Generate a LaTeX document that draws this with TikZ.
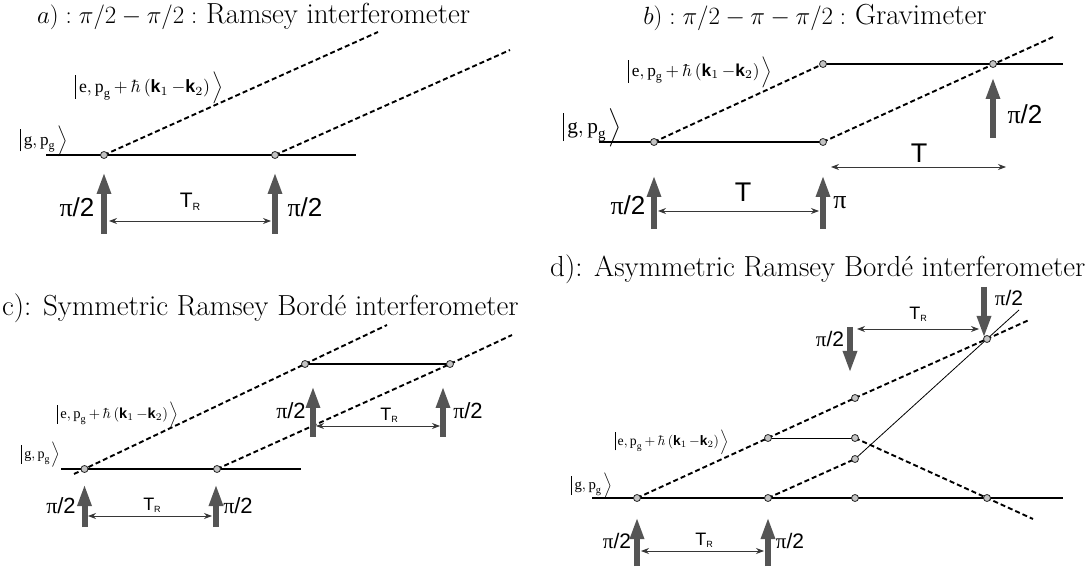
\documentclass[tikz,border=0pt]{standalone}
\usepackage{amsmath}
\usepackage{fontspec}
\newfontfamily\ketfont{Liberation Serif}
\newfontfamily\sanf{Liberation Sans}
\usetikzlibrary{arrows.meta}
\definecolor{pulsecol}{RGB}{85,85,85}
\definecolor{ballcol}{RGB}{195,195,195}
\definecolor{tcol}{RGB}{55,55,55}
\newcommand\ketbar{\rule[-0.36em]{0.055em}{1.32em}}
\newcommand\pg{\text{p}_{\text{g}}}
\newcommand\kete{{\ketfont$\left.\ketbar\mkern3mu\text{e},\pg\,{+}\,\hbar\left(\text{\sanf\bfseries k}_1\,{-}\text{\sanf\bfseries k}_2\right)\mkern2mu\right\rangle$}}
\newcommand\ketg{{\ketfont$\left.\ketbar\mkern3mu\text{g},\pg\mkern2mu\right\rangle$}}
\newcommand\pihalf{{\ketfont π}/2}
\newcommand\TRlab{T\raisebox{-0.12em}{\scalebox{0.5}{R}}}
\tikzset{
  ball/.style={circle,draw=black!85,fill=ballcol,line width=0.8pt,inner sep=0pt,minimum size=7pt},
  lev/.style={line width=1.2pt},
  thinlev/.style={line width=0.8pt},
  dsh/.style={line width=1.9pt,dash pattern=on 5pt off 3pt},
  pulse/.style={line width=6pt,draw=pulsecol,-{Triangle[length=22pt,width=13pt]}},
  tarr/.style={line width=0.8pt,draw=tcol,{Stealth[length=8pt,width=6pt]}-{Stealth[length=8pt,width=6pt]}},
  title/.style={anchor=base west,inner sep=0pt,font=\fontsize{29}{33}\selectfont},
  pilab/.style={inner sep=0pt,font=\sanf\fontsize{#1}{#1}\selectfont},
  tlab/.style={inner sep=0pt,font=\sanf\fontsize{#1}{#1}\selectfont},
  ket/.style={inner sep=0pt}
}
\begin{document}
\begin{tikzpicture}[x=1pt,y=-1pt]
\useasboundingbox (0,0) rectangle (1088,569);
% ================= panel a
\node[title] (ta) at (37,24) {$a) : \pi/2-\pi/2 :$ Ramsey interferometer};
\coordinate (aL) at (46,155); \coordinate (aR) at (356,155);
\coordinate (pa1) at (104,155); \coordinate (pa2) at (275,155);
\coordinate (aE1) at (378,32); \coordinate (aE2) at (510,50);
\draw[lev] (aL) -- (aR);
\draw[dsh] (pa1) -- (aE1);
\draw[dsh] (pa2) -- (aE2);
\node[ball] (a1) at (pa1) {}; \node[ball] (a2) at (pa2) {};
\node[ket] (ake) at (148,88) {\resizebox{150pt}{!}{\kete}};
\node[ket] (akg) at (43,141) {\resizebox{50pt}{!}{\ketg}};
\coordinate (aP1b) at (104,234); \coordinate (aP1t) at (104,172);
\coordinate (aP2b) at (275,234); \coordinate (aP2t) at (275,172);
\draw[pulse] (aP1b) -- (aP1t);
\draw[pulse] (aP2b) -- (aP2t);
\node[pilab=26] (api1) at (77,207) {\pihalf};
\node[pilab=26] (api2) at (305,207) {\pihalf};
\coordinate (aT1) at (109,221); \coordinate (aT2) at (271,221);
\draw[tarr] (aT1) -- (aT2);
\node[tlab=21] (aTR) at (190,202) {\TRlab};
% ================= panel b
\node[title,anchor=base] (tb) at (815,25) {$b) : \pi/2-\pi-\pi/2 :$ Gravimeter};
\coordinate (bL) at (599,142); \coordinate (bR) at (1063,64);
\coordinate (pb1) at (654,142); \coordinate (pb2) at (823,142);
\coordinate (pb3) at (823,64); \coordinate (pb4) at (993,64);
\coordinate (bE) at (1053,37);
\draw[lev] (bL) -- (pb2);
\draw[lev] (pb3) -- (bR);
\draw[dsh] (pb1) -- (pb3);
\draw[dsh] (pb2) -- (bE);
\node[ball] (b1) at (pb1) {}; \node[ball] (b2) at (pb2) {};
\node[ball] (b3) at (pb3) {}; \node[ball] (b4) at (pb4) {};
\node[ket] (bke) at (699,72) {\resizebox{146pt}{!}{\kete}};
\node[ket] (bkg) at (591,128) {\resizebox{62pt}{!}{\ketg}};
\coordinate (bP1b) at (654,229); \coordinate (bP1t) at (654,175);
\coordinate (bP2b) at (823,229); \coordinate (bP2t) at (823,175);
\coordinate (bP3b) at (993,138); \coordinate (bP3t) at (993,77);
\draw[pulse] (bP1b) -- (bP1t);
\draw[pulse] (bP2b) -- (bP2t);
\draw[pulse] (bP3b) -- (bP3t);
\node[pilab=26] (bpi1) at (628,205) {\pihalf};
\node[pilab=26] (bpi2) at (840,203) {{\ketfont π}};
\node[pilab=26] (bpi3) at (1025,114) {\pihalf};
\coordinate (bT1) at (658,211); \coordinate (bT2) at (819,211);
\coordinate (bT3) at (831,167); \coordinate (bT4) at (1006,167);
\draw[tarr] (bT1) -- (bT2);
\draw[tarr] (bT3) -- (bT4);
\node[tlab=27] (bTa) at (743,192) {T};
\node[tlab=27] (bTb) at (919,153) {T};
% ================= panel c
\node[title] (tc) at (2,316) {c): Symmetric Ramsey Bordé interferometer};
\coordinate (cL) at (61,469); \coordinate (cR) at (301,469);
\coordinate (cS) at (74,474);
\coordinate (pc1) at (84.5,469); \coordinate (pc2) at (217,469);
\coordinate (pc3) at (305,364); \coordinate (pc4) at (450,364);
\coordinate (cE1) at (387,325); \coordinate (cE2) at (512,335);
\draw[lev] (cL) -- (cR);
\draw[lev] (pc3) -- (pc4);
\draw[dsh] (cS) -- (pc1) -- (pc3) -- (cE1);
\draw[dsh] (pc2) -- (pc4) -- (cE2);
\node[ball] (c1) at (pc1) {}; \node[ball] (c2) at (pc2) {};
\node[ball] (c3) at (pc3) {}; \node[ball] (c4) at (pc4) {};
\node[ket] (cke) at (117,415) {\resizebox{123pt}{!}{\kete}};
\node[ket] (ckg) at (40,455) {\resizebox{41pt}{!}{\ketg}};
\coordinate (cP1b) at (84.5,527); \coordinate (cP1t) at (84.5,484);
\coordinate (cP2b) at (216,527); \coordinate (cP2t) at (216,484);
\coordinate (cP3b) at (313,437); \coordinate (cP3t) at (313,386);
\coordinate (cP4b) at (443,437); \coordinate (cP4t) at (443,386);
\draw[pulse] (cP1b) -- (cP1t);
\draw[pulse] (cP2b) -- (cP2t);
\draw[pulse] (cP3b) -- (cP3t);
\draw[pulse] (cP4b) -- (cP4t);
\node[pilab=22] (cpi1) at (61,506) {\pihalf};
\node[pilab=22] (cpi2) at (238,506) {\pihalf};
\node[pilab=22] (cpi3) at (291,411) {\pihalf};
\node[pilab=22] (cpi4) at (468,411) {\pihalf};
\coordinate (cT1) at (88,516); \coordinate (cT2) at (212,516);
\coordinate (cT3) at (316,426); \coordinate (cT4) at (440,426);
\draw[tarr] (cT1) -- (cT2);
\draw[tarr] (cT3) -- (cT4);
\node[tlab=18] (cTRa) at (152,505) {\TRlab};
\node[tlab=18] (cTRb) at (389,415) {\TRlab};
% ================= panel d
\node[title] (td) at (550,277) {d): Asymmetric Ramsey Bordé interferometer};
\coordinate (dL) at (592,498); \coordinate (dR) at (1063,498);
\coordinate (pd1) at (637,498); \coordinate (pd2) at (768,498);
\coordinate (pd3) at (855,498); \coordinate (pd4) at (987,498);
\coordinate (pd5) at (768,438); \coordinate (pd6) at (855,438);
\coordinate (pd7) at (855,459); \coordinate (pd8) at (855,398);
\coordinate (pd9) at (987,339);
\coordinate (dE1) at (1029,320); \coordinate (dE3) at (1033,519);
\coordinate (dE4) at (1019,310);
\draw[lev] (dL) -- (dR);
\draw[thinlev] (pd5) -- (pd6);
\draw[thinlev] (pd7) -- (pd9) -- (dE4);
\draw[dsh] (pd1) -- (pd5) -- (pd8) -- (pd9) -- (dE1);
\draw[dsh] (pd2) -- (pd7);
\draw[dsh] (pd6) -- (pd4) -- (dE3);
\foreach \n in {1,...,9} {\node[ball] (d\n) at (pd\n) {};}
\node[ket] (dke) at (671,442) {\resizebox{116pt}{!}{\kete}};
\node[ket] (dkg) at (591,486) {\resizebox{43pt}{!}{\ketg}};
\coordinate (dP1b) at (637,566); \coordinate (dP1t) at (637,517);
\coordinate (dP2b) at (768,566); \coordinate (dP2t) at (768,517);
\coordinate (dP3t) at (850,327); \coordinate (dP3b) at (850,373);
\coordinate (dP4t) at (984,287); \coordinate (dP4b) at (984,338);
\draw[pulse] (dP1b) -- (dP1t);
\draw[pulse] (dP2b) -- (dP2t);
\draw[pulse] (dP3t) -- (dP3b);
\draw[pulse] (dP4t) -- (dP4b);
\node[pilab=21] (dpi1) at (617,541) {\pihalf};
\node[pilab=21] (dpi2) at (790,541) {\pihalf};
\node[pilab=21] (dpi3) at (830,339) {\pihalf};
\node[pilab=21] (dpi4) at (1009,298) {\pihalf};
\coordinate (dT1) at (641,551); \coordinate (dT2) at (764,551);
\coordinate (dT3) at (857,329); \coordinate (dT4) at (979,329);
\draw[tarr] (dT1) -- (dT2);
\draw[tarr] (dT3) -- (dT4);
\node[tlab=18] (dTRa) at (704,540) {\TRlab};
\node[tlab=18] (dTRb) at (918,314) {\TRlab};
\end{tikzpicture}
\end{document}
